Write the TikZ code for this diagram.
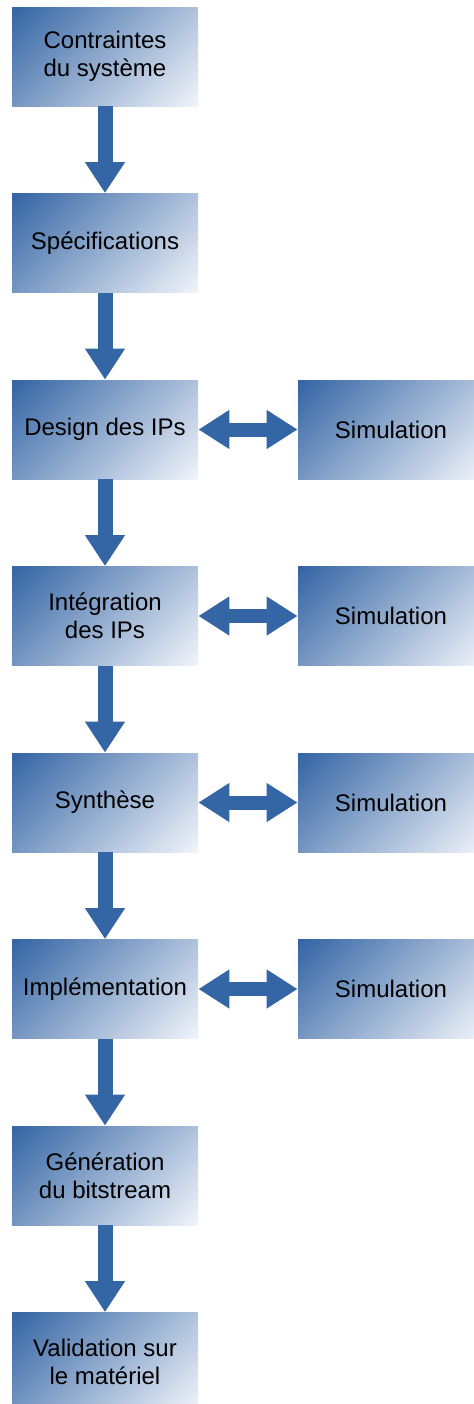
\documentclass[tikz,border=0pt]{standalone}
\usepackage{fontspec}
\setmainfont{Liberation Sans}
\usetikzlibrary{arrows.meta}
\definecolor{flowblue}{RGB}{52,101,164}
\definecolor{paleblue}{RGB}{240,243,250}
\pgfdeclareverticalshading{boxfade}{100bp}{color(0bp)=(paleblue); color(15bp)=(paleblue);
    color(85bp)=(flowblue); color(100bp)=(flowblue)}
\tikzset{
    box/.style={rectangle, minimum width=93pt, minimum height=49.5pt, inner sep=0pt,
        shade, shading=boxfade, shading angle=45,
        align=center, font=\fontsize{12}{14}\selectfont},
    flow/.style={flowblue, line width=7.5pt, -{Triangle[length=15.5pt, width=19pt]}},
    twoway/.style={flowblue, line width=7pt,
        {Triangle[length=15.5pt, width=18.5pt]}-{Triangle[length=15.5pt, width=18.5pt]}}
}
\begin{document}
\begin{tikzpicture}[x=0.5pt, y=-0.5pt]
    \clip (0, 0) rectangle (474, 1404);

    \node [box] (C) at (105, 56.5) {Contraintes\\du système};
    \node [box] (S) at (105, 243) {Spécifications};
    \node [box] (D) at (105, 429.5) {Design des IPs};
    \node [box] (I) at (105, 616) {Intégration\\des IPs};
    \node [box] (Y) at (105, 802.5) {Synthèse};
    \node [box] (M) at (105, 989) {Implémentation};
    \node [box] (G) at (105, 1175.5) {Génération\\du bitstream};
    \node [box] (V) at (105, 1362) {Validation sur\\le matériel};

    \node [box] (S1) at (391, 429.5) {Simulation};
    \node [box] (S2) at (391, 616) {Simulation};
    \node [box] (S3) at (391, 802.5) {Simulation};
    \node [box] (S4) at (391, 989) {Simulation};

    \draw [flow] (C) -- (S);
    \draw [flow] (S) -- (D);
    \draw [flow] (D) -- (I);
    \draw [flow] (I) -- (Y);
    \draw [flow] (Y) -- (M);
    \draw [flow] (M) -- (G);
    \draw [flow] (G) -- (V);

    \draw [twoway] (D) -- (S1);
    \draw [twoway] (I) -- (S2);
    \draw [twoway] (Y) -- (S3);
    \draw [twoway] (M) -- (S4);
\end{tikzpicture}
\end{document}
